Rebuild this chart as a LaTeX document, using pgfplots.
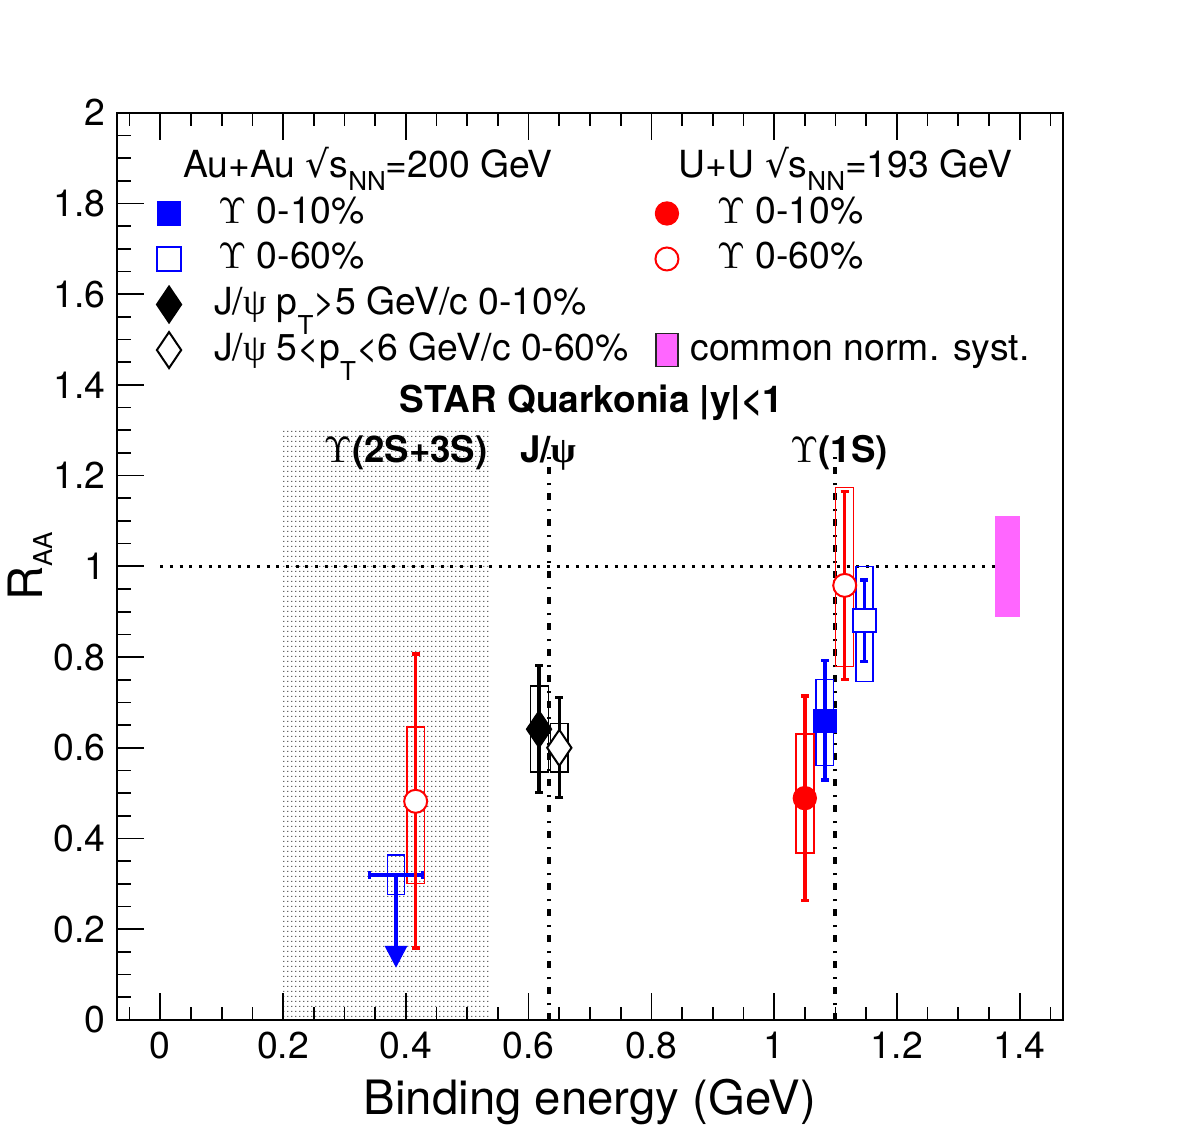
\documentclass[border=0pt]{standalone}
\usepackage{pgfplots}
\pgfplotsset{compat=1.18}
\usepackage{fontspec}
\setmainfont{TeX Gyre Heros}
\newfontfamily\greekserif{Liberation Serif}
\newfontfamily\dejavu{DejaVu Sans}
\usetikzlibrary{arrows.meta,patterns}

\definecolor{normsyst}{RGB}{255,102,255}

% fine dot screen for the excited-state band
\pgfdeclarepatternformonly{finedots}{\pgfpointorigin}{\pgfqpoint{1.2pt}{1.4pt}}{\pgfqpoint{1.2pt}{1.4pt}}%
  {\pgfpathrectangle{\pgfpointorigin}{\pgfqpoint{0.4pt}{0.4pt}}\pgfusepath{fill}}

\newcommand{\Ups}{$\Upsilon$}
\newcommand{\psig}{{\greekserif ψ}}
\newcommand{\lsub}[2]{\raisebox{-#1}{\fontsize{7.8}{8}\selectfont #2}}
\newcommand{\sqrts}{{\dejavu √}s\lsub{3.8pt}{NN}}
% legend image: #1 cell width, #2 marker position, #3 marker style
\newcommand{\legimg}[3]{\addlegendimage{legend image code/.code={%
  \path[draw=none] (0pt,0pt) -- (#1,0pt);\path[#3] plot[only marks] coordinates {(#2,0pt)};}}}

\begin{document}
\begin{tikzpicture}
\path[use as bounding box] (0,0) rectangle (354.6pt,340.2pt);
\begin{axis}[
  at={(35.2pt,34.2pt)}, anchor=south west,
  scale only axis, width=283.6pt, height=272.2pt,
  xmin=-0.07, xmax=1.47, ymin=0, ymax=2,
  xtick={0,0.2,0.4,0.6,0.8,1,1.2,1.4},
  ytick={0,0.2,0.4,0.6,0.8,1,1.2,1.4,1.6,1.8,2},
  minor xtick={-0.05,0.05,0.1,0.15,0.25,0.3,0.35,0.45,0.5,0.55,0.65,0.7,0.75,0.85,0.9,0.95,1.05,1.1,1.15,1.25,1.3,1.35,1.45},
  minor ytick={0.05,0.1,0.15,0.25,0.3,0.35,0.45,0.5,0.55,0.65,0.7,0.75,0.85,0.9,0.95,1.05,1.1,1.15,1.25,1.3,1.35,1.45,1.5,1.55,1.65,1.7,1.75,1.85,1.9,1.95},
  xtick pos=both, ytick pos=left,
  xticklabel pos=lower, yticklabel pos=left,
  tick align=inside,
  major tick length=8.1pt, minor tick length=4pt,
  tick style={black, line width=0.5pt},
  axis line style={line width=0.6pt},
  axis on top,
  /pgf/number format/assume math mode=true,
  tick label style={font=\fontsize{11.2}{13}\selectfont},
  xlabel={Binding energy (GeV)},
  ylabel={R\lsub{3pt}{AA}},
  xlabel style={at={(axis description cs:0.5,-0.1047)}, anchor=base, font=\fontsize{14.2}{16}\selectfont},
  ylabel style={at={(axis description cs:-0.0794,0.5)}, anchor=base, font=\fontsize{14.2}{16}\selectfont},
  legend columns=2,
  legend cell align=left,
  legend style={at={(0.0406,0.9642)}, anchor=north west, draw=none, fill=none,
    inner sep=0pt, outer sep=0pt, row sep=0pt, column sep=0pt,
    font=\fontsize{11.2}{13}\selectfont,
    nodes={inner sep=0pt, text height=9.83pt, text depth=3.83pt}},
]

% Upsilon(2S+3S) region
\addplot[draw=none, pattern=finedots, pattern color=black!60, forget plot]
  coordinates {(0.2,0) (0.537,0) (0.537,1.3) (0.2,1.3)} -- cycle;

% R_AA = 1 and binding energies of J/psi and Upsilon(1S)
\addplot[black, line width=0.9pt, dash pattern=on 0.9pt off 2pt, forget plot]
  coordinates {(0,1) (1.36,1)};
\addplot[black, line width=1pt, dash pattern=on 2pt off 2.4pt on 0.8pt off 2.6pt, forget plot]
  coordinates {(0.633,0) (0.633,1.25)};
\addplot[black, line width=1pt, dash pattern=on 2pt off 2.4pt on 0.8pt off 2.6pt, forget plot]
  coordinates {(1.099,0) (1.099,1.25)};

% common normalisation uncertainty
\addplot[fill=normsyst, draw=none, forget plot]
  coordinates {(1.36,0.889) (1.40,0.889) (1.40,1.110) (1.36,1.110)} -- cycle;

% systematic boxes
\addplot[blue, line width=0.45pt, forget plot] coordinates {(0.370,0.277) (0.398,0.277) (0.398,0.364) (0.370,0.364)} -- cycle;
\addplot[red, line width=0.45pt, forget plot] coordinates {(0.402,0.301) (0.430,0.301) (0.430,0.646) (0.402,0.646)} -- cycle;
\addplot[black, line width=0.45pt, forget plot] coordinates {(0.603,0.547) (0.632,0.547) (0.632,0.736) (0.603,0.736)} -- cycle;
\addplot[black, line width=0.45pt, forget plot] coordinates {(0.636,0.547) (0.664,0.547) (0.664,0.654) (0.636,0.654)} -- cycle;
\addplot[red, line width=0.45pt, forget plot] coordinates {(1.036,0.368) (1.065,0.368) (1.065,0.630) (1.036,0.630)} -- cycle;
\addplot[blue, line width=0.45pt, forget plot] coordinates {(1.068,0.561) (1.097,0.561) (1.097,0.750) (1.068,0.750)} -- cycle;
\addplot[red, line width=0.45pt, forget plot] coordinates {(1.100,0.779) (1.129,0.779) (1.129,1.174) (1.100,1.174)} -- cycle;
\addplot[blue, line width=0.45pt, forget plot] coordinates {(1.133,0.746) (1.161,0.746) (1.161,1.000) (1.133,1.000)} -- cycle;

\pgfplotsset{statbars/.style={error bars/.cd, y dir=both, y explicit,
  error mark=|,
  error bar style={line width=1.05pt, solid},
  error mark options={line width=1pt, mark size=1.2pt}}}

% Au+Au Upsilon(2S+3S) 0-60%: upper limit
\addplot[blue, forget plot, error bars/.cd, x dir=both, x explicit, error mark=|,
  error bar style={line width=1.05pt}, error mark options={line width=1pt, mark size=1.2pt}]
  coordinates {(0.384,0.32) +- (0.043,0)};
\addplot[blue, line width=1.05pt, -{Triangle[width=6.6pt,length=6.6pt]}, forget plot]
  coordinates {(0.384,0.32) (0.384,0.115)};

% U+U Upsilon(2S+3S) 0-60%
\addplot[red, only marks, mark=*, mark size=3.45pt, mark options={fill=white, draw=red, line width=0.6pt}, forget plot, statbars]
  table[x=x, y=y, y error plus=ep, y error minus=em] {
x y ep em
0.416 0.482 0.325 0.323
};
% J/psi pT>5 GeV/c 0-10%
\addplot[black, only marks, mark=diamond*, mark size=5.55pt, mark options={xscale=0.9}, forget plot, statbars]
  table[x=x, y=y, y error plus=ep, y error minus=em] {
x y ep em
0.617 0.641 0.140 0.140
};
% J/psi 5<pT<6 GeV/c 0-60%
\addplot[black, only marks, mark=diamond*, mark size=5.4pt, mark options={xscale=0.9, fill=white, draw=black, line width=0.6pt}, forget plot, statbars]
  table[x=x, y=y, y error plus=ep, y error minus=em] {
x y ep em
0.650 0.600 0.111 0.109
};
% U+U Upsilon(1S) 0-10%
\addplot[red, only marks, mark=*, mark size=3.45pt, forget plot, statbars]
  table[x=x, y=y, y error plus=ep, y error minus=em] {
x y ep em
1.050 0.489 0.225 0.226
};
% Au+Au Upsilon(1S) 0-10%
\addplot[blue, only marks, mark=square*, mark size=3.45pt, forget plot, statbars]
  table[x=x, y=y, y error plus=ep, y error minus=em] {
x y ep em
1.083 0.659 0.133 0.130
};
% U+U Upsilon(1S) 0-60%
\addplot[red, only marks, mark=*, mark size=3.45pt, mark options={fill=white, draw=red, line width=0.6pt}, forget plot, statbars]
  table[x=x, y=y, y error plus=ep, y error minus=em] {
x y ep em
1.115 0.958 0.207 0.207
};
% Au+Au Upsilon(1S) 0-60%
\addplot[blue, only marks, mark=square*, mark size=3.5pt, mark options={fill=white, draw=blue, line width=0.6pt}, forget plot, statbars]
  table[x=x, y=y, y error plus=ep, y error minus=em] {
x y ep em
1.147 0.881 0.089 0.091
};

% labels
\node[anchor=base, font=\fontsize{11.1}{13}\selectfont\bfseries] at (axis cs:0.7025,1.3385) {STAR Quarkonia |y|<1};
\node[anchor=base west, font=\fontsize{11}{13}\selectfont\bfseries, inner sep=0pt] at (axis cs:0.265,1.228) {\Ups(2S+3S)};
\node[anchor=base west, font=\fontsize{11}{13}\selectfont\bfseries, inner sep=0pt] at (axis cs:0.585,1.228) {J/\psig};
\node[anchor=base west, font=\fontsize{11}{13}\selectfont\bfseries, inner sep=0pt] at (axis cs:1.025,1.228) {\Ups(1S)};

% legend
\addlegendimage{empty legend}
\addlegendentry{\hspace*{-9.3pt}Au+Au \sqrts=200 GeV}
\addlegendimage{empty legend}
\addlegendentry{\hspace*{-3.45pt}U+U \sqrts=193 GeV}
\legimg{17.5pt}{4pt}{blue, fill=blue, mark=square*, mark size=3.45pt}
\addlegendentry{\hspace*{1.2pt}\Ups\ 0-10\%}
\legimg{18.45pt}{11.4pt}{red, fill=red, mark=*, mark size=3.45pt}
\addlegendentry{\hspace*{7.95pt}\Ups\ 0-10\%}
\legimg{17.5pt}{4pt}{blue, mark=square*, mark size=3.5pt, mark options={fill=white, draw=blue, line width=0.6pt}}
\addlegendentry{\hspace*{1.2pt}\Ups\ 0-60\%}
\legimg{18.45pt}{11.4pt}{red, mark=*, mark size=3.45pt, mark options={fill=white, draw=red, line width=0.6pt}}
\addlegendentry{\hspace*{7.95pt}\Ups\ 0-60\%}
\legimg{17.5pt}{4pt}{black, fill=black, mark=diamond*, mark size=5.55pt, mark options={xscale=0.9}}
\addlegendentry{J/\psig\ p\lsub{6pt}{T}>5 GeV/c 0-10\%}
\addlegendimage{empty legend}
\addlegendentry{}
\legimg{17.5pt}{4pt}{black, mark=diamond*, mark size=5.4pt, mark options={xscale=0.9, fill=white, draw=black, line width=0.6pt}}
\addlegendentry{J/\psig\ 5<p\lsub{6pt}{T}<6 GeV/c 0-60\%}
\addlegendimage{legend image code/.code={\path[draw=none] (0pt,0pt) -- (18.45pt,0pt);
  \draw[fill=normsyst, draw=black!85, line width=0.5pt] (8.1pt,-4.95pt) rectangle (14.7pt,4.95pt);}}
\addlegendentry{common norm. syst.}
\end{axis}
\end{tikzpicture}
\end{document}
